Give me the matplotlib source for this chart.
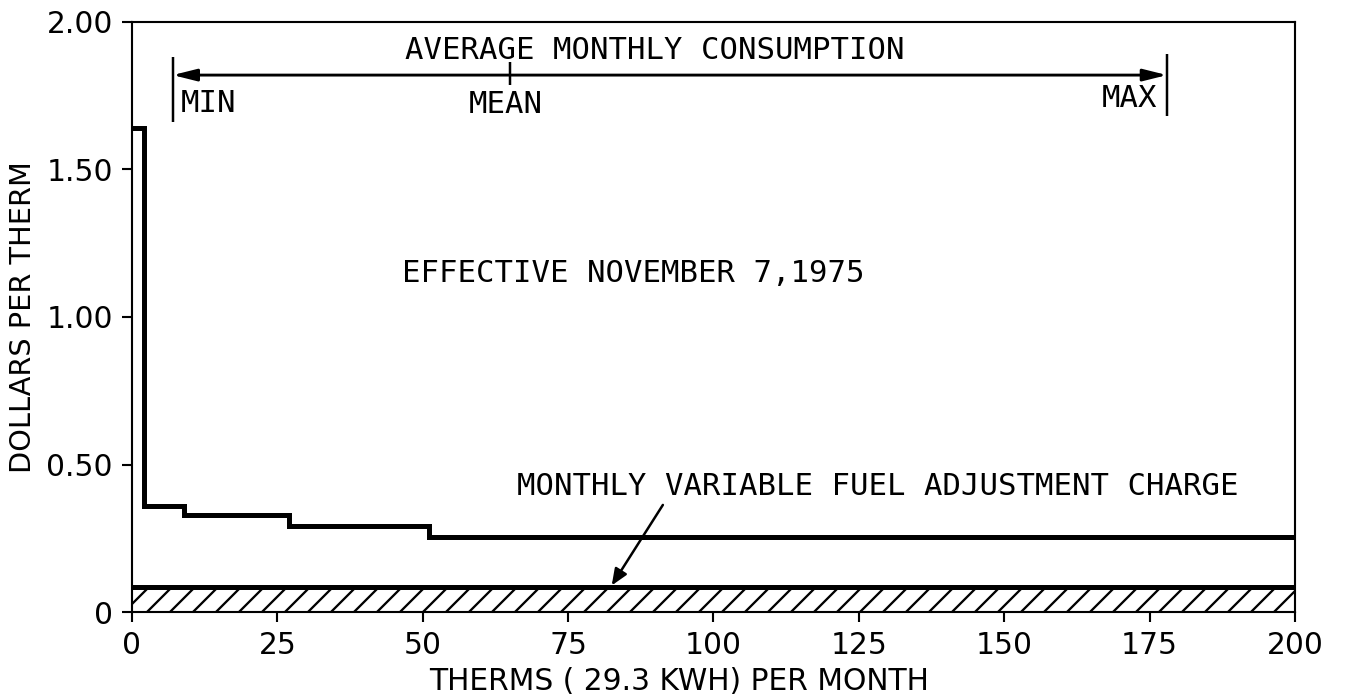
import matplotlib.pyplot as plt

# Block rate schedule (dollars per therm) and block boundaries (therms)
block_edges = [0, 2, 9, 27, 51, 200]
block_rates = [1.64, 0.36, 0.33, 0.29, 0.255]

# Fuel adjustment charge shown as hatched band
fuel_charge = 0.085

# Average monthly consumption range
consumption_min = 7
consumption_mean = 65
consumption_max = 178
range_y = 1.82

x_ticks = [0, 25, 50, 75, 100, 125, 150, 175, 200]
y_ticks = [0, 0.5, 1.0, 1.5, 2.0]
y_tick_labels = ['0', '0.50', '1.00', '1.50', '2.00']

plt.rcParams['hatch.linewidth'] = 1.2

DPI = 138
fig = plt.figure(figsize=(1351 / DPI, 698 / DPI), dpi=DPI)
ax = fig.add_axes([0.0977, 0.1232, 0.9585 - 0.0977, 0.9685 - 0.1232])

mono = 'DejaVu Sans Mono'
sans = 'DejaVu Sans'

# rate steps
ax.step(block_edges, block_rates + [block_rates[-1]], where='post',
        color='black', linewidth=2.6, solid_joinstyle='miter')

# hatched fuel adjustment band
ax.fill_between([0, 200], 0, fuel_charge, facecolor='white', edgecolor='black',
                hatch='//', linewidth=0)
ax.plot([0, 200], [fuel_charge, fuel_charge], color='black', linewidth=2.6)

# consumption range arrow with min / mean / max markers
ax.annotate('', xy=(consumption_max, range_y), xytext=(consumption_min, range_y),
            arrowprops=dict(arrowstyle='<|-|>,head_length=0.8,head_width=0.2',
                            color='black', lw=1.5, shrinkA=0, shrinkB=0,
                            mutation_scale=13))
ax.vlines(consumption_min, 1.66, 1.88, color='black', linewidth=1.3)
ax.vlines(consumption_max, 1.68, 1.89, color='black', linewidth=1.3)
ax.vlines(consumption_mean, 1.786, 1.864, color='black', linewidth=1.3)

ax.text(46.9, 1.905, 'AVERAGE MONTHLY CONSUMPTION', family=mono, fontsize=16,
        va='center', ha='left')
ax.text(8.3, 1.725, 'MIN', family=mono, fontsize=16, va='center', ha='left')
ax.text(64.3, 1.72, 'MEAN', family=mono, fontsize=16, va='center', ha='center')
ax.text(176.4, 1.74, 'MAX', family=mono, fontsize=16, va='center', ha='right')

ax.text(46.4, 1.149, 'EFFECTIVE NOVEMBER 7,1975', family=mono, fontsize=16,
        va='center', ha='left')

ax.text(66.2, 0.424, 'MONTHLY VARIABLE FUEL ADJUSTMENT CHARGE', family=mono,
        fontsize=16, va='center', ha='left')
ax.annotate('', xy=(82.5, fuel_charge + 0.005), xytext=(91.3, 0.363),
            arrowprops=dict(arrowstyle='-|>,head_length=0.6,head_width=0.25',
                            color='black', lw=1.3, shrinkA=0, shrinkB=0,
                            mutation_scale=12))

# axes formatting
ax.set_xlim(0, 200)
ax.set_ylim(0, 2.0)
ax.set_xticks(x_ticks)
ax.set_xticklabels([str(t) for t in x_ticks], family=sans, fontsize=15.5)
ax.set_yticks(y_ticks)
ax.set_yticklabels(y_tick_labels, family=sans, fontsize=15.5)
ax.tick_params(direction='out', length=5, width=1.1, pad=5)
for s in ax.spines.values():
    s.set_linewidth(1.1)

ax.set_xlabel('THERMS ( 29.3 KWH) PER MONTH', family=sans, fontsize=15.5,
              va='center')
ax.xaxis.set_label_coords(0.47, -0.117)
ax.set_ylabel('DOLLARS PER THERM', family=sans, fontsize=15, labelpad=5)

fig.savefig('out.png', dpi=DPI)
